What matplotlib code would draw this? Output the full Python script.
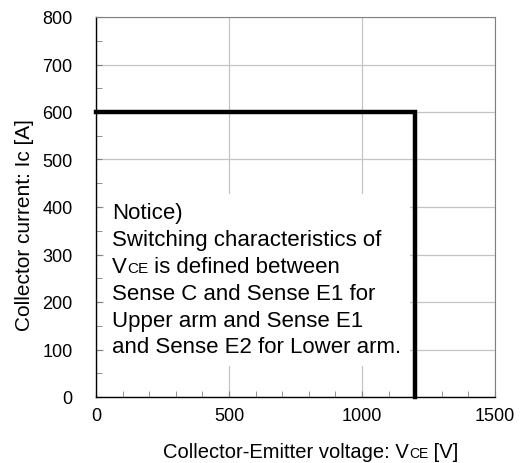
import matplotlib
matplotlib.use("Agg")
import matplotlib.pyplot as plt
from matplotlib.offsetbox import TextArea, HPacker, VPacker, AnnotationBbox
from matplotlib.ticker import MultipleLocator

plt.rcParams['font.family'] = ['Liberation Sans', 'DejaVu Sans']

# RBSOA boundary: collector-emitter voltage [V] vs collector current [A]
vce = [0, 1200, 1200]
ic = [600, 600, 0]

x_ticks = [0, 500, 1000, 1500]
y_ticks = [0, 100, 200, 300, 400, 500, 600, 700, 800]

notice_lines = [
    [("Notice)", 16)],
    [("Switching characteristics of", 16)],
    [("V", 16), ("CE", 11), (" is defined between", 16)],
    [("Sense C and Sense E1 for", 16)],
    [("Upper arm and Sense E1", 16)],
    [("and Sense E2 for Lower arm.", 16)],
]
xlabel_parts = [("Collector-Emitter voltage: V", 14.5), ("CE", 10), (" [V]", 14.5)]


def rich_line(parts):
    areas = [TextArea(s, textprops=dict(fontsize=fs, color="black")) for s, fs in parts]
    return HPacker(children=areas, align="baseline", pad=0, sep=0)


fig = plt.figure(figsize=(5.25, 4.64), dpi=100)
ax = fig.add_axes([96 / 525, 1 - 398 / 464, 399 / 525, 380 / 464])

ax.plot(vce, ic, color="black", lw=3.2, solid_capstyle="projecting",
        solid_joinstyle="miter", clip_on=False, zorder=5)

ax.set_xlim(0, 1500)
ax.set_ylim(0, 800)
ax.set_xticks(x_ticks)
ax.set_yticks(y_ticks)
ax.xaxis.set_minor_locator(MultipleLocator(100))
ax.yaxis.set_minor_locator(MultipleLocator(50))
ax.tick_params(which="both", direction="in", color="#808080", labelsize=13)
ax.tick_params(which="major", length=4)
ax.tick_params(which="minor", length=4)
ax.tick_params(axis="y", which="major", pad=17)
ax.tick_params(axis="x", which="major", pad=7)
ax.grid(True, which="major", color="#c4c4c4", lw=0.9, zorder=0)
ax.set_axisbelow(True)

for side in ("top", "right"):
    ax.spines[side].set_color("#808080")
for side in ("left", "bottom"):
    ax.spines[side].set_color("black")
    ax.spines[side].set_linewidth(1.0)

ax.set_ylabel("Collector current: Ic [A]", fontsize=15)
ax.yaxis.set_label_coords(-0.155, 0.454)

# x label with small-caps "CE"
xl = AnnotationBbox(rich_line(xlabel_parts), (311 / 525, 1 - 453 / 464),
                    xycoords="figure fraction", box_alignment=(0.5, 0.5),
                    frameon=False, pad=0)
fig.add_artist(xl)

# notice text on a white box
notice = VPacker(children=[rich_line(p) for p in notice_lines],
                 align="left", pad=6, sep=4.2)
nb = AnnotationBbox(notice, (8 / 399, (398 - 195) / 380), xycoords="axes fraction",
                    box_alignment=(0, 1), frameon=True, pad=0,
                    bboxprops=dict(facecolor="white", edgecolor="none"))
nb.set_zorder(3)
ax.add_artist(nb)

fig.savefig("out.png", dpi=100)
